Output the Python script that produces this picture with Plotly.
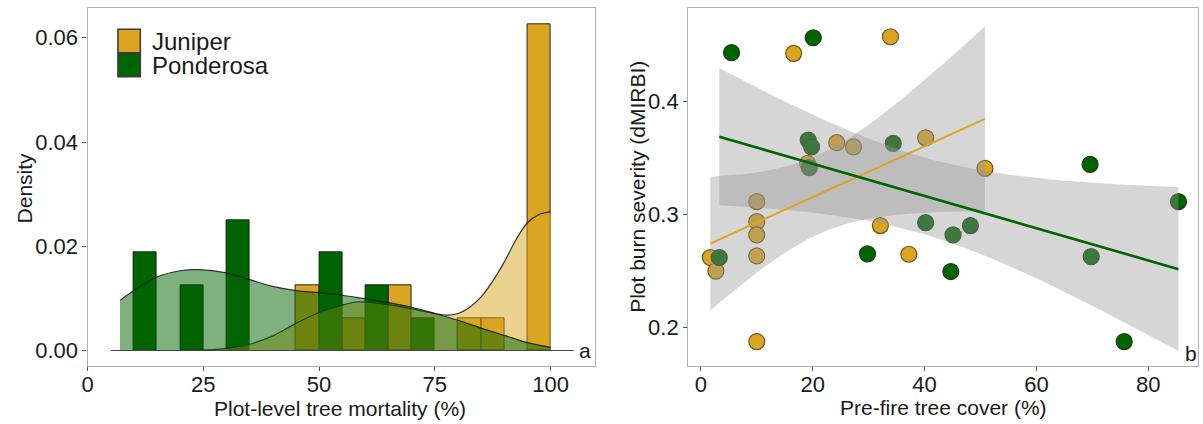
import numpy as np
import plotly.graph_objects as go

# ---------------- data: panel a (histogram + density) ----------------
bin_width = 5
jun_bin_left = [45, 55, 65, 80, 85, 95]
jun_bin_density = [0.0125, 0.00625, 0.0125, 0.00625, 0.00625, 0.0625]
pon_bin_left = [10, 20, 30, 50, 60, 70]
pon_bin_density = [0.01875, 0.0125, 0.025, 0.01875, 0.0125, 0.00625]

jun_dens_x = [20, 25, 30, 35, 40, 45, 50, 55, 58, 60, 65, 70, 75, 77.5, 80, 82.5, 85, 87.5, 90, 92.5, 95, 97.5, 100]
jun_dens_y = [0.0000, 0.0001, 0.0004, 0.0012, 0.0028, 0.0052, 0.0073, 0.0087, 0.0093, 0.0093, 0.0088, 0.0080,
              0.0071, 0.0068, 0.0071, 0.0083, 0.0103, 0.0133, 0.0170, 0.0212, 0.0245, 0.0261, 0.0266]
pon_dens_x = [7, 10, 15, 20, 24, 30, 35, 40, 45, 50, 55, 60, 65, 70, 75, 80, 85, 90, 95, 100]
pon_dens_y = [0.0096, 0.0115, 0.0141, 0.0153, 0.0155, 0.0149, 0.0136, 0.0123, 0.0115, 0.0111, 0.0106, 0.0099,
              0.0092, 0.0083, 0.0071, 0.0058, 0.0043, 0.0029, 0.0015, 0.0006]
baseline_x = [5, 105]
baseline_y = [0, 0]

# ---------------- data: panel b (scatter + lm) ----------------
jun_cover = [1.7, 2.7, 10.0, 10.0, 10.0, 10.0, 10.0, 16.6, 19.1, 24.3, 27.3, 33.9, 32.1, 37.2, 40.2, 50.8]
jun_sev = [0.262, 0.250, 0.3115, 0.2938, 0.282, 0.2634, 0.1876, 0.4428, 0.3454, 0.3637, 0.360, 0.4575,
           0.2903, 0.2649, 0.368, 0.341]
pon_cover = [3.3, 5.5, 20.1, 19.2, 19.8, 19.4, 34.4, 29.8, 40.2, 45.1, 48.2, 44.7, 69.6, 69.8, 75.7, 85.4]
pon_sev = [0.262, 0.4434, 0.4566, 0.366, 0.360, 0.3416, 0.3631, 0.2652, 0.2929, 0.282, 0.2903, 0.2496,
           0.3445, 0.2628, 0.1876, 0.3115]

x_ticks_a = [0, 25, 50, 75, 100]
y_ticks_a = [0.00, 0.02, 0.04, 0.06]
y_ticklabels_a = ["0.00", "0.02", "0.04", "0.06"]
x_ticks_b = [0, 20, 40, 60, 80]
y_ticks_b = [0.2, 0.3, 0.4]

JUN = "#DAA520"
PON = "#006400"
FONT = "Liberation Sans, Arial, sans-serif"
W, H = 1203, 424


def lm_fit(x, y, t=2.1448):
    x = np.asarray(x, float)
    y = np.asarray(y, float)
    n = len(x)
    b, a = np.polyfit(x, y, 1)
    res = y - (a + b * x)
    s = np.sqrt(np.sum(res ** 2) / (n - 2))
    xs = np.linspace(x.min(), x.max(), 80)
    fit = a + b * xs
    se = s * np.sqrt(1.0 / n + (xs - x.mean()) ** 2 / np.sum((x - x.mean()) ** 2))
    return xs, fit, fit - t * se, fit + t * se


fig = go.Figure()

# histogram bars (panel a)
for lefts, dens, col in [(jun_bin_left, jun_bin_density, JUN), (pon_bin_left, pon_bin_density, PON)]:
    fig.add_trace(go.Bar(
        x=[l + bin_width / 2 for l in lefts], y=dens, width=bin_width,
        marker=dict(color=col, line=dict(color="rgba(20,20,20,0.9)", width=1)),
        xaxis="x", yaxis="y", showlegend=False, hoverinfo="skip"))

# densities
fig.add_trace(go.Scatter(x=jun_dens_x, y=jun_dens_y, mode="lines", fill="tozeroy",
                         fillcolor="rgba(218,165,32,0.5)", line=dict(color="rgba(20,20,20,0.85)", width=1.2, shape="spline"),
                         xaxis="x", yaxis="y", showlegend=False, hoverinfo="skip"))
fig.add_trace(go.Scatter(x=pon_dens_x, y=pon_dens_y, mode="lines", fill="tozeroy",
                         fillcolor="rgba(0,100,0,0.5)", line=dict(color="rgba(20,20,20,0.85)", width=1.2, shape="spline"),
                         xaxis="x", yaxis="y", showlegend=False, hoverinfo="skip"))
fig.add_trace(go.Scatter(x=baseline_x, y=baseline_y, mode="lines", line=dict(color="#444444", width=1.2),
                         xaxis="x", yaxis="y", showlegend=False, hoverinfo="skip"))

# scatter points (panel b)
fig.add_trace(go.Scatter(x=jun_cover, y=jun_sev, mode="markers",
                         marker=dict(size=16, color=JUN, line=dict(color="#6b5418", width=1.2)),
                         xaxis="x2", yaxis="y2", showlegend=False, hoverinfo="skip"))
fig.add_trace(go.Scatter(x=pon_cover, y=pon_sev, mode="markers",
                         marker=dict(size=16, color=PON, line=dict(color="#1f3a12", width=1.2)),
                         xaxis="x2", yaxis="y2", showlegend=False, hoverinfo="skip"))

fits = [lm_fit(jun_cover, jun_sev), lm_fit(pon_cover, pon_sev)]
for xs, fit, lo, hi in fits:
    fig.add_trace(go.Scatter(x=np.concatenate([xs, xs[::-1]]), y=np.concatenate([hi, lo[::-1]]),
                             mode="lines", fill="toself", fillcolor="rgba(153,153,153,0.4)",
                             line=dict(width=0), xaxis="x2", yaxis="y2", showlegend=False, hoverinfo="skip"))
for (xs, fit, lo, hi), col, w in zip(fits, [JUN, PON], [2.0, 2.6]):
    fig.add_trace(go.Scatter(x=xs, y=fit, mode="lines", line=dict(color=col, width=w),
                             xaxis="x2", yaxis="y2", showlegend=False, hoverinfo="skip"))

axis_common = dict(showline=True, linecolor="#b0b0b0", linewidth=1.2, mirror=True, showgrid=False,
                   zeroline=False, ticks="outside", ticklen=4, tickcolor="#555555", tickwidth=1,
                   tickfont=dict(family=FONT, size=22, color="#1a1a1a"))

ydom = [(H - 365.5) / H, (H - 8.3) / H]
fig.update_layout(
    width=W, height=H, margin=dict(l=0, r=0, t=0, b=0),
    paper_bgcolor="white", plot_bgcolor="white", barmode="overlay", bargap=0,
    xaxis=dict(domain=[82 / W, 592 / W], range=[0, 109.6], tickvals=x_ticks_a, anchor="y",
               ticklabelstandoff=-5, **axis_common),
    yaxis=dict(domain=ydom, range=[-0.00288, 0.06565], tickvals=y_ticks_a, ticktext=y_ticklabels_a,
               anchor="x", **axis_common),
    xaxis2=dict(domain=[685.6 / W, 1198 / W], range=[-2.26, 88.9], tickvals=x_ticks_b, anchor="y2",
                ticklabelstandoff=-5, **axis_common),
    yaxis2=dict(domain=ydom, range=[0.1664, 0.4827], tickvals=y_ticks_b, tickformat=".1f", anchor="x2", **axis_common),
)

ann = [
    dict(text="Density", x=19 / W, y=1 - 187.5 / H, textangle=-90, size=21),
    dict(text="Plot-level tree mortality (%)", x=336 / W, y=1 - 408 / H, textangle=0, size=21),
    dict(text="Plot burn severity (dMIRBI)", x=634 / W, y=1 - 187 / H, textangle=-90, size=21),
    dict(text="Pre-fire tree cover (%)", x=941.8 / W, y=1 - 407 / H, textangle=0, size=21),
]
for a in ann:
    fig.add_annotation(text=a["text"], x=a["x"], y=a["y"], xref="paper", yref="paper", showarrow=False,
                       textangle=a["textangle"], xanchor="center", yanchor="middle",
                       font=dict(family=FONT, size=a["size"], color="#1a1a1a"))

fig.add_annotation(text="a", x=107.4, y=0.0, xref="x", yref="y", showarrow=False, xanchor="center",
                   yanchor="middle", font=dict(family=FONT, size=21, color="#1a1a1a"))
fig.add_annotation(text="b", x=87.6, y=0.177, xref="x2", yref="y2", showarrow=False, xanchor="center",
                   yanchor="middle", font=dict(family=FONT, size=21, color="#1a1a1a"))

# legend (manual)
legend_items = [("Juniper", JUN, 29.3, 52.7, 41), ("Ponderosa", PON, 53.3, 76.7, 65)]
for label, col, top, bot, ty in legend_items:
    fig.add_shape(type="rect", xref="paper", yref="paper", x0=112.5 / W, x1=135 / W,
                  y0=1 - bot / H, y1=1 - top / H, fillcolor=col, line=dict(color="#3a3a3a", width=1.5))
    fig.add_annotation(text=label, x=145 / W, y=1 - ty / H, xref="paper", yref="paper", showarrow=False,
                       xanchor="left", yanchor="middle", font=dict(family=FONT, size=24, color="#1a1a1a"))

fig.write_html("out.html", config={"displayModeBar": False},
               post_script="document.body.style.margin='0px';document.body.style.overflow='hidden';")
